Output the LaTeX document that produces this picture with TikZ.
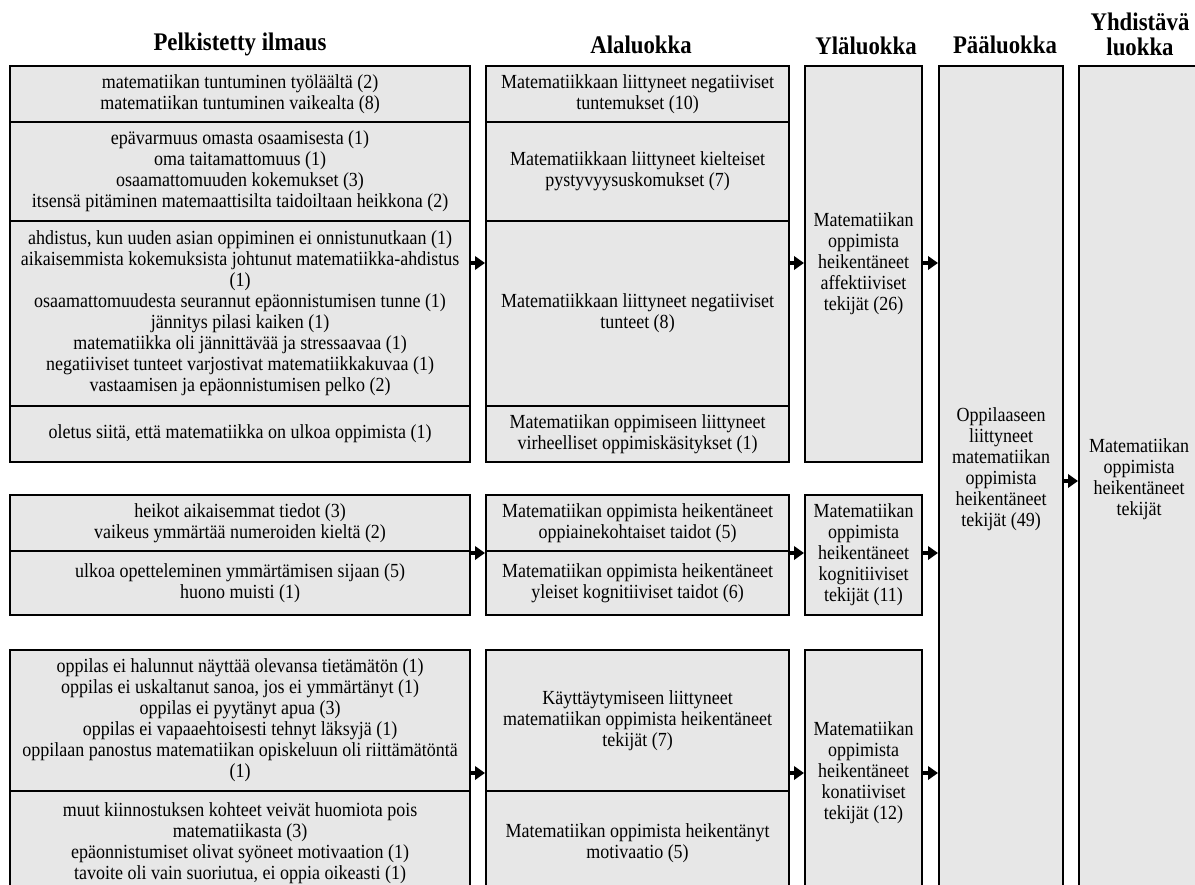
\documentclass[tikz,border=0pt]{standalone}
\usepackage{fontspec}
\setmainfont{Liberation Serif}[FakeStretch=0.9]
\usetikzlibrary{arrows.meta}
\definecolor{boxgray}{RGB}{231,231,231}
\newcommand{\bodyfont}{\fontsize{12pt}{12.6pt}\selectfont}
\newcommand{\hdrfont}{\fontsize{15.2pt}{15pt}\selectfont\bfseries}
\begin{document}
\begin{tikzpicture}[x=0.6pt,y=-0.6pt,
  box/.style={draw=black, line width=1.2pt, fill=boxgray, rectangle, inner sep=1pt, align=center, font=\bodyfont},
  lbox/.style={box, minimum width=276pt},
  abox/.style={box, minimum width=181.8pt},
  ybox/.style={box, minimum width=70.2pt},
  hdr/.style={align=center, font=\hdrfont, inner sep=0pt},
  lbl/.style={align=center, font=\bodyfont, inner sep=0pt},
  arr/.style={line width=2pt, -{Triangle[length=6pt,width=8pt]}}]
\useasboundingbox (0,0) rectangle (1195,885);
\clip (0,0) rectangle (1195,885);
\fill[white] (0,0) rectangle (1195,885);
% headers
\node[hdr] (h1) at (240,44) {Pelkistetty ilmaus};
\node[hdr] (h2) at (641,45) {Alaluokka};
\node[hdr] (h3) at (866,46) {Yläluokka};
\node[hdr] (h4) at (1005,45) {Pääluokka};
\node[hdr] (h5) at (1140,34) {Yhdistävä\\luokka};
% left column
\node[lbox, minimum height=33.6pt] (L1) at (240,94) {matematiikan tuntuminen työläältä (2)\\matematiikan tuntuminen vaikealta (8)};
\node[lbox, minimum height=59.4pt] (L2) at (240,171.5) {epävarmuus omasta osaamisesta (1)\\oma taitamattomuus (1)\\osaamattomuuden kokemukset (3)\\itsensä pitäminen matemaattisilta taidoiltaan heikkona (2)};
\node[lbox, minimum height=111pt] (L3) at (240,313.5) {ahdistus, kun uuden asian oppiminen ei onnistunutkaan (1)\\aikaisemmista kokemuksista johtunut matematiikka-ahdistus\\(1)\\osaamattomuudesta seurannut epäonnistumisen tunne (1)\\jännitys pilasi kaiken (1)\\matematiikka oli jännittävää ja stressaavaa (1)\\negatiiviset tunteet varjostivat matematiikkakuvaa (1)\\vastaamisen ja epäonnistumisen pelko (2)};
\node[lbox, minimum height=33.6pt] (L4) at (240,434) {oletus siitä, että matematiikka on ulkoa oppimista (1)};
\node[lbox, minimum height=33.6pt] (L5) at (240,523) {heikot aikaisemmat tiedot (3)\\vaikeus ymmärtää numeroiden kieltä (2)};
\node[lbox, minimum height=38.4pt] (L6) at (240,583) {ulkoa opetteleminen ymmärtämisen sijaan (5)\\huono muisti (1)};
\node[lbox, minimum height=84.6pt] (L7) at (240,720.5) {oppilas ei halunnut näyttää olevansa tietämätön (1)\\oppilas ei uskaltanut sanoa, jos ei ymmärtänyt (1)\\oppilas ei pyytänyt apua (3)\\oppilas ei vapaaehtoisesti tehnyt läksyjä (1)\\oppilaan panostus matematiikan opiskeluun oli riittämätöntä\\(1)};
\node[lbox, minimum height=62.4pt] (L8) at (240,843) {muut kiinnostuksen kohteet veivät huomiota pois\\matematiikasta (3)\\epäonnistumiset olivat syöneet motivaation (1)\\tavoite oli vain suoriutua, ei oppia oikeasti (1)};
% alaluokka
\node[abox, minimum height=33.6pt] (A1) at (637.5,94) {Matematiikkaan liittyneet negatiiviset\\tuntemukset (10)};
\node[abox, minimum height=59.4pt] (A2) at (637.5,171.5) {Matematiikkaan liittyneet kielteiset\\pystyvyysuskomukset (7)};
\node[abox, minimum height=111pt] (A3) at (637.5,313.5) {Matematiikkaan liittyneet negatiiviset\\tunteet (8)};
\node[abox, minimum height=33.6pt] (A4) at (637.5,434) {Matematiikan oppimiseen liittyneet\\virheelliset oppimiskäsitykset (1)};
\node[abox, minimum height=33.6pt] (A5) at (637.5,523) {Matematiikan oppimista heikentäneet\\oppiainekohtaiset taidot (5)};
\node[abox, minimum height=38.4pt] (A6) at (637.5,583) {Matematiikan oppimista heikentäneet\\yleiset kognitiiviset taidot (6)};
\node[abox, minimum height=84.6pt] (A7) at (637.5,720.5) {Käyttäytymiseen liittyneet\\matematiikan oppimista heikentäneet\\tekijät (7)};
\node[abox, minimum height=62.4pt] (A8) at (637.5,843) {Matematiikan oppimista heikentänyt\\motivaatio (5)};
% ylaluokka
\node[ybox, minimum height=237.6pt] (Y1) at (863.5,264) {Matematiikan\\oppimista\\heikentäneet\\affektiiviset\\tekijät (26)};
\node[ybox, minimum height=72pt] (Y2) at (863.5,555) {Matematiikan\\oppimista\\heikentäneet\\kognitiiviset\\tekijät (11)};
\node[ybox, minimum height=147pt] (Y3) at (863.5,772.5) {Matematiikan\\oppimista\\heikentäneet\\konatiiviset\\tekijät (12)};
% paaluokka
\node[box, minimum width=74.4pt, minimum height=497.4pt] (P) at (1001,480.5) {};
\node[lbl] (Ptxt) at (1001,469) {Oppilaaseen\\liittyneet\\matematiikan\\oppimista\\heikentäneet\\tekijät (49)};
% yhdistava
\node[box, minimum width=78pt, minimum height=497.4pt] (Yh) at (1144,480.5) {};
\node[lbl] (Yhtxt) at (1139,479) {Matematiikan\\oppimista\\heikentäneet\\tekijät};
% arrows
\coordinate (r1) at (0,263);
\coordinate (r2) at (0,553);
\coordinate (r3) at (0,773);
\coordinate (r4) at (0,481);
\draw[arr] (L3.east |- r1) -- (A3.west |- r1);
\draw[arr] (A3.east |- r1) -- (Y1.west |- r1);
\draw[arr] (Y1.east |- r1) -- (P.west |- r1);
\draw[arr] (L5.east |- r2) -- (A5.west |- r2);
\draw[arr] (A5.east |- r2) -- (Y2.west |- r2);
\draw[arr] (Y2.east |- r2) -- (P.west |- r2);
\draw[arr] (L7.east |- r3) -- (A7.west |- r3);
\draw[arr] (A7.east |- r3) -- (Y3.west |- r3);
\draw[arr] (Y3.east |- r3) -- (P.west |- r3);
\draw[arr] (P.east |- r4) -- (Yh.west |- r4);
\end{tikzpicture}
\end{document}
